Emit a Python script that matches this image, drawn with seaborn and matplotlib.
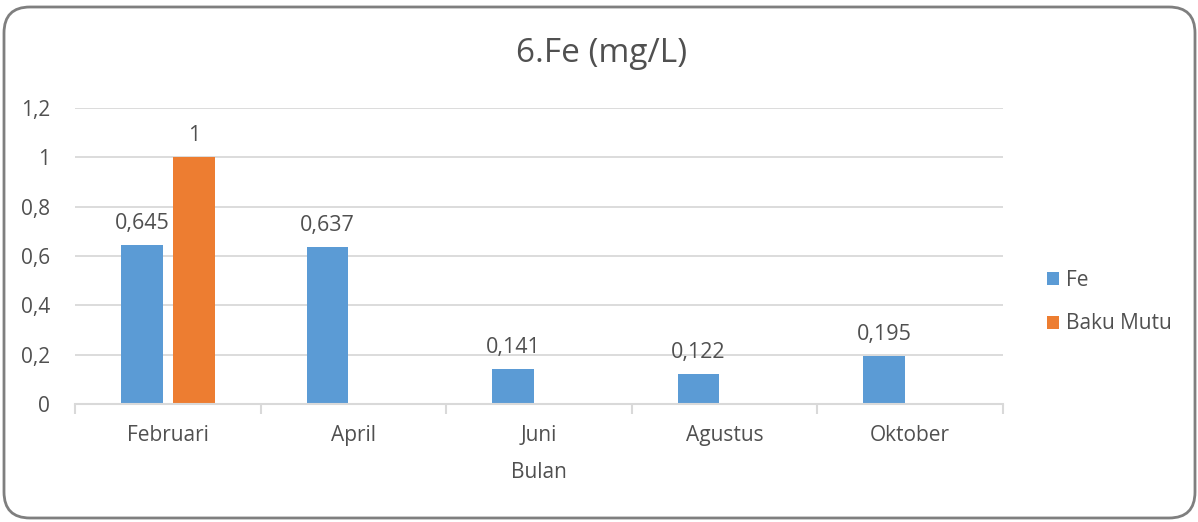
import matplotlib
matplotlib.use("Agg")
import matplotlib.pyplot as plt
from matplotlib.patches import FancyBboxPatch, Patch
from matplotlib.transforms import IdentityTransform
from matplotlib.ticker import FuncFormatter, FixedLocator
import seaborn as sns
import pandas as pd
import numpy as np

months = ["Februari", "April", "Juni", "Agustus", "Oktober"]
fe_values = [0.645, 0.637, 0.141, 0.122, 0.195]
baku_mutu = [1.0, np.nan, np.nan, np.nan, np.nan]
series_names = ["Fe", "Baku Mutu"]
colors = ["#5B9BD5", "#ED7D31"]
title = "6.Fe (mg/L)"
xlabel = "Bulan"
yticks = [0, 0.2, 0.4, 0.6, 0.8, 1.0, 1.2]

rows = []
for m, a, b in zip(months, fe_values, baku_mutu):
    rows.append({"Bulan": m, "Seri": series_names[0], "Nilai": a})
    rows.append({"Bulan": m, "Seri": series_names[1], "Nilai": b})
df = pd.DataFrame(rows)

sns.set_style("white")
plt.rcParams["font.family"] = ["Open Sans", "DejaVu Sans"]
txt = "#505050"
grid_c = "#D9D9D9"

W, H = 1198, 522
fig = plt.figure(figsize=(W / 100, H / 100), dpi=100)
ax = fig.add_axes([75 / W, (H - 404) / H, (1003 - 75) / W, (404 - 108) / H])

sns.barplot(data=df, x="Bulan", y="Nilai", hue="Seri", order=months,
            hue_order=series_names, palette=colors, width=0.56, gap=0.2,
            saturation=1, ax=ax, legend=False, edgecolor="none", linewidth=0)

ax.set_xlim(-0.5, len(months) - 0.5)
ax.set_ylim(0, 1.2)
ax.yaxis.set_major_locator(FixedLocator(yticks))
ax.yaxis.set_major_formatter(FuncFormatter(lambda v, p: f"{v:g}".replace(".", ",")))
ax.grid(axis="y", color=grid_c, linewidth=1.3)
ax.set_axisbelow(True)
for s in ["top", "right", "left"]:
    ax.spines[s].set_visible(False)
ax.spines["bottom"].set_color(grid_c)
ax.spines["bottom"].set_linewidth(1.5)

# category boundary ticks on x axis
ax.set_xticks(np.arange(-0.5, len(months), 1.0), minor=True)
ax.tick_params(axis="x", which="minor", length=7, color=grid_c, width=1.5, bottom=True)
ax.tick_params(axis="x", which="major", length=0, labelsize=15, labelcolor=txt, pad=15)
ax.tick_params(axis="y", length=0, labelsize=15, labelcolor=txt, pad=18)
for lab in ax.get_yticklabels():
    lab.set_horizontalalignment("right")

ax.set_xlabel(xlabel, fontsize=15, color=txt, labelpad=12)
ax.set_ylabel("")

for cont in ax.containers:
    labels = []
    for bar in cont:
        h = bar.get_height()
        labels.append("" if np.isnan(h) else f"{h:g}".replace(".", ","))
    ax.bar_label(cont, labels=labels, padding=8, fontsize=15.5, color=txt)

fig.text(602 / W, (H - 54) / H, title, ha="center", va="center", fontsize=24, color=txt)

handles = [Patch(facecolor=c, edgecolor="none") for c in colors]
fig.legend(handles, series_names, loc="center left", bbox_to_anchor=(1028 / W, (H - 302) / H),
           frameon=False, fontsize=15, labelcolor=txt, handlelength=0.6, handleheight=0.6,
           handletextpad=0.3, labelspacing=1.1)

border = FancyBboxPatch((4, 4), 1191, 511, boxstyle="round,pad=0,rounding_size=26",
                        transform=IdentityTransform(), facecolor="none",
                        edgecolor="#7F7F7F", linewidth=2)
fig.add_artist(border)

fig.savefig("out.png", dpi=100)
